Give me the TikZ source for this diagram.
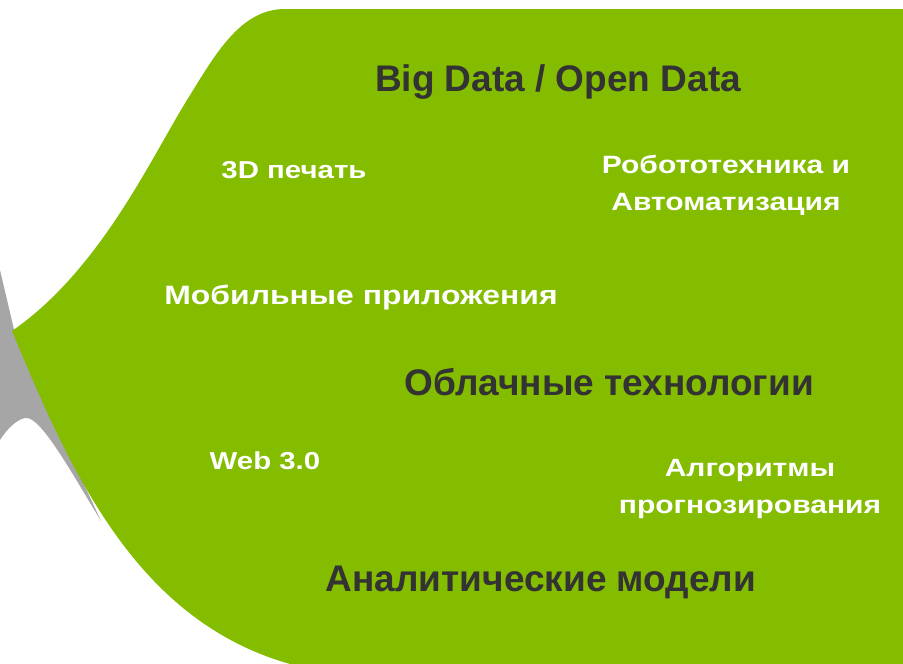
\documentclass[tikz,border=0pt]{standalone}
\usepackage{fontspec}
\setmainfont{Liberation Sans}
\newfontfamily\wfont[FakeStretch=1.2]{Liberation Sans}
\definecolor{leaf}{RGB}{132,188,0}
\definecolor{ink}{RGB}{51,51,51}
\definecolor{stone}{RGB}{166,166,166}
\tikzset{
  darklabel/.style={text=ink, font=\bfseries\fontsize{#1}{#1}\selectfont, anchor=base, inner sep=0pt},
  whitelabel/.style={text=white, font=\wfont\bfseries\fontsize{#1}{37}\selectfont, anchor=base, inner sep=0pt, align=center},
}
\begin{document}
\begin{tikzpicture}[x=1pt,y=-1pt]
\useasboundingbox (0,0) rectangle (903,664);
\fill[white] (0,0) rectangle (903,664);
% gray tail
\fill[stone] (0,270) -- (16,338) -- (101,521)
  .. controls (70,470) and (40,415) .. (25,418)
  .. controls (15,420) and (5,432) .. (0,440) -- cycle;
% green wave
\fill[leaf] (285,9) -- (903,9) -- (903,664) -- (290,664)
  .. controls (135,620) and (70,470) .. (12,331)
  .. controls (100,270) and (150,160) .. (187,100)
  .. controls (215,55) and (240,9) .. (285,9) -- cycle;
\node[darklabel=37] (bigdata) at (558,91) {Big Data / Open Data};
\node[whitelabel=24.5] (print) at (294,178) {3D печать};
\node[whitelabel=25] (robot) at (726,210) {Робототехника и\\Автоматизация};
\node[whitelabel=26.6] (mobile) at (361,304) {Мобильные приложения};
\node[darklabel=37] (cloud) at (609,395) {Облачные технологии};
\node[whitelabel=24.5] (web) at (265,469) {Web 3.0};
\node[whitelabel=25] (algo) at (750,513) {Алгоритмы\\прогнозирования};
\node[darklabel=37] (models) at (541,591) {Аналитические модели};
\end{tikzpicture}
\end{document}
